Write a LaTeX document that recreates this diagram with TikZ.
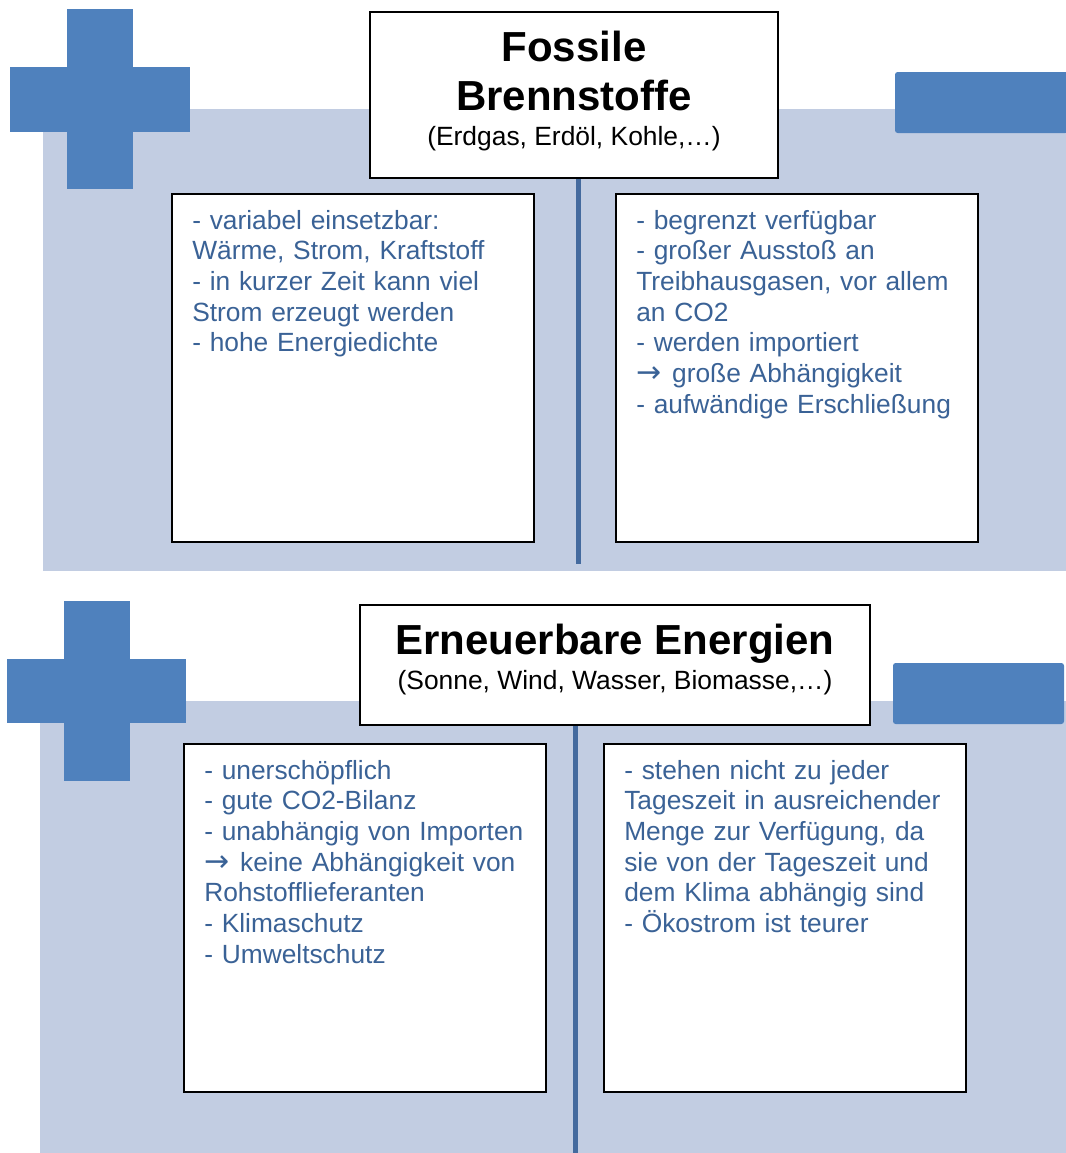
\documentclass[tikz,border=0pt]{standalone}
\usepackage{fontspec}
\setmainfont{Liberation Sans}
\newfontfamily\arrowfont{DejaVu Sans}
\usepackage{tikz}
\usetikzlibrary{positioning, calc}
\definecolor{panelbg}{RGB}{194,205,226}
\definecolor{signblue}{RGB}{79,129,189}
\definecolor{listblue}{RGB}{58,98,150}
\definecolor{splitblue}{RGB}{68,106,158}
\newcommand{\goesto}{{\arrowfont\fontsize{22.5pt}{23pt}\selectfont →}\hspace{1.5pt}}
\tikzset{
    headbox/.style={rectangle, draw, line width=1.5pt, fill=white, inner sep=0pt},
    listbox/.style={rectangle, draw, line width=1.5pt, fill=white, inner sep=0pt, minimum width=271.5pt, minimum height=261pt},
    headline/.style={inner sep=0pt, anchor=base, font=\fontsize{31.5pt}{36.75pt}\selectfont\bfseries},
    subline/.style={inner sep=0pt, anchor=base, font=\fontsize{19.8pt}{23pt}\selectfont},
    listtext/.style={inner sep=0pt, anchor=base west, align=left, text width=255pt, text=listblue, font=\fontsize{19.75pt}{23.05pt}\selectfont},
    split/.style={line width=3.75pt, draw=splitblue}
}

\begin{document}
\begin{tikzpicture}[x=0.75pt, y=-0.75pt]
            \useasboundingbox (0,0) rectangle (1066,1153);

            % top panel
            \fill[panelbg] (43,109) rectangle (1066,571);
            \fill[signblue] (67,9) rectangle (133,189);
            \fill[signblue] (10,67) rectangle (190,132);
            \fill[signblue, rounded corners=2pt] (895,72) rectangle (1068,133);

            \node[headbox, minimum width=306pt, minimum height=124.5pt] (fosHead) at (574,95) {};
            \node[headline] (fosTitleA) at ([shift={(0,50)}]fosHead.north) {Fossile};
            \node[headline] (fosTitleB) at ([shift={(0,99)}]fosHead.north) {Brennstoffe};
            \node[subline] (fosSub) at ([shift={(0,134)}]fosHead.north) {(Erdgas, Erdöl, Kohle,…)};
            \coordinate (fosEnd) at (578,564);
            \path[split] (fosHead.south -| fosEnd) -- (fosEnd);

            \node[listbox] (fosPro) at (353,368) {};
            \node[listbox] (fosCon) at (797,368) {};
            \node[listtext] (fosProText) at ([shift={(21,36)}]fosPro.north west) {- variabel einsetzbar:\\Wärme, Strom, Kraftstoff\\- in kurzer Zeit kann viel\\Strom erzeugt werden\\- hohe Energiedichte};
            \node[listtext] (fosConText) at ([shift={(21,36)}]fosCon.north west) {- begrenzt verfügbar\\- großer Ausstoß an\\Treibhausgasen, vor allem\\an CO2\\- werden importiert\\\goesto{} große Abhängigkeit\\- aufwändige Erschließung};

            % bottom panel
            \fill[panelbg] (40,701) rectangle (1066,1153);
            \fill[signblue] (64,601) rectangle (130,781);
            \fill[signblue] (7,659) rectangle (186,723);
            \fill[signblue, rounded corners=2pt] (893,663) rectangle (1064,724);

            \node[headbox, minimum width=382.5pt, minimum height=90pt] (renHead) at (615,665) {};
            \node[headline] (renTitle) at ([shift={(0,50)}]renHead.north) {Erneuerbare Energien};
            \node[subline] (renSub) at ([shift={(0,85)}]renHead.north) {(Sonne, Wind, Wasser, Biomasse,…)};
            \coordinate (renEnd) at (575,1153);
            \path[split] (renHead.south -| renEnd) -- (renEnd);

            \node[listbox] (renPro) at (365,918) {};
            \node[listbox] (renCon) at (785,918) {};
            \node[listtext] (renProText) at ([shift={(21,36)}]renPro.north west) {- unerschöpflich\\- gute CO2-Bilanz\\- unabhängig von Importen\\\goesto{} keine Abhängigkeit von\\Rohstofflieferanten\\- Klimaschutz\\- Umweltschutz};
            \node[listtext] (renConText) at ([shift={(21,36)}]renCon.north west) {- stehen nicht zu jeder\\Tageszeit in ausreichender\\Menge zur Verfügung, da\\sie von der Tageszeit und\\dem Klima abhängig sind\\- Ökostrom ist teurer};
        \end{tikzpicture}
\end{document}
